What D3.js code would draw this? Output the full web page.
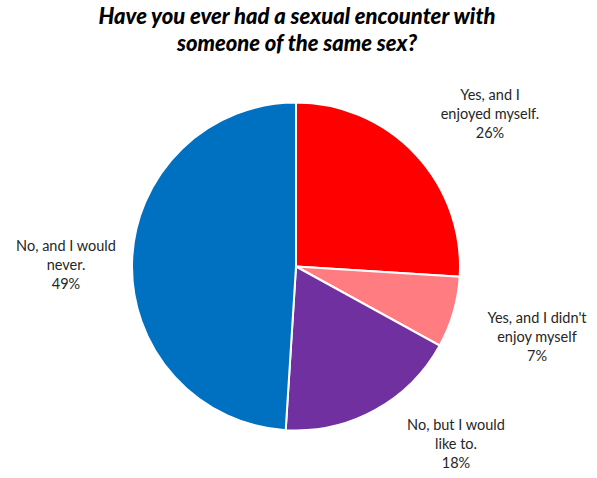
<!DOCTYPE html>
<html><head><meta charset="utf-8">
<script src="https://cdn.jsdelivr.net/npm/d3@7"></script>
<style>body{margin:0;background:#fff;}</style>
</head><body>
<svg id="c" width="597" height="478"></svg>
<script>
const categories = ["Yes, and I enjoyed myself.", "Yes, and I didn't enjoy myself", "No, but I would like to.", "No, and I would never."];
const values = [26, 7, 18, 49];
const labelLines = [["Yes, and I", "enjoyed myself.", "26%"], ["Yes, and I didn't", "enjoy myself", "7%"], ["No, but I would", "like to.", "18%"], ["No, and I would", "never.", "49%"]];
const colors = ["#FF0000", "#FF7C80", "#7030A0", "#0070C0"];
const titleLines = ["Have you ever had a sexual encounter with", "someone of the same sex?"];

const svg = d3.select("#c");
const cx = 296, cy = 266.5, r = 164;
const labelPos = [[490, 100], [537, 323], [456, 430], [66, 251]];

svg.append("g").selectAll("text").data(titleLines).join("text")
  .attr("x", 297).attr("y", (d, i) => 24 + i * 27)
  .attr("text-anchor", "middle")
  .attr("font-family", "Lato, 'Open Sans', sans-serif")
  .attr("font-weight", "900").attr("font-style", "italic")
  .attr("font-size", 22).attr("fill", "#000")
  .text(d => d);

const pie = d3.pie().sort(null).value(d => d);
const arc = d3.arc().innerRadius(0).outerRadius(r);
const g = svg.append("g").attr("transform", `translate(${cx},${cy})`);
g.selectAll("path").data(pie(values)).join("path")
  .attr("d", arc).attr("fill", (d, i) => colors[i])
  .attr("stroke", "#fff").attr("stroke-width", 2);

labelLines.forEach((lines, i) => {
  const t = svg.append("text").attr("text-anchor", "middle")
    .attr("font-family", "Lato, 'Open Sans', sans-serif")
    .attr("font-size", 14.5).attr("fill", "#262626");
  lines.forEach((l, j) => {
    t.append("tspan").attr("x", labelPos[i][0]).attr("y", labelPos[i][1] + j * 19).text(l);
  });
});
</script>
</body></html>
